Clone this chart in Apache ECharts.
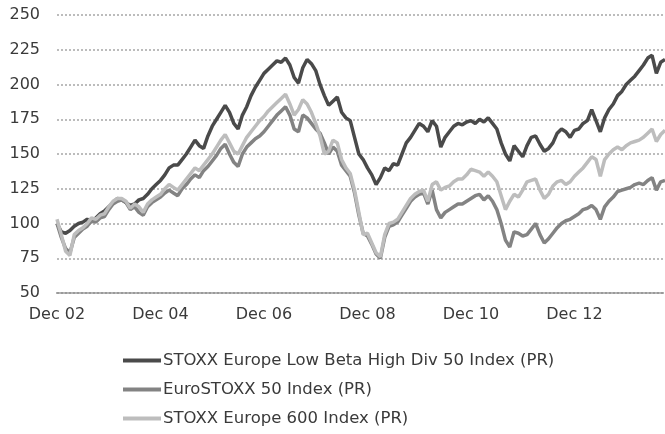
<!DOCTYPE html>
<html>
<head>
<meta charset="utf-8">
<script src="https://cdn.jsdelivr.net/npm/echarts@6/dist/echarts.min.js"></script>
<style>html,body{margin:0;padding:0;background:#fff}#c{width:665px;height:434px}</style>
</head>
<body>
<div id="c"></div>
<script>
// Monthly categories from Dec 2002 to Sep 2014
const startYear = 2002, startMonth = 11, monthCount = 142;
const monthNames = ["Jan","Feb","Mar","Apr","May","Jun","Jul","Aug","Sep","Oct","Nov","Dec"];
const categories = [];
for (let i = 0; i < monthCount; i++) {
  const mm = (startMonth + i) % 12;
  const yy = startYear + Math.floor((startMonth + i) / 12);
  categories.push(monthNames[mm] + " " + String(yy % 100).padStart(2, "0"));
}
const tickLabels = ["Dec 02","Dec 04","Dec 06","Dec 08","Dec 10","Dec 12"];
const seriesNames = ["STOXX Europe Low Beta High Div 50 Index (PR)","EuroSTOXX 50 Index (PR)","STOXX Europe 600 Index (PR)"];

const lowBetaHighDiv = [
100,94,93,95,98,100,101,103,101,104,107,109,
112,115,118,117,115,113,114,117,118,121,125,128,
131,135,140,142,142,146,150,155,160,156,154,163,
170,175,180,185,180,172,168,178,184,192,198,203,
208,211,214,217,216,219,214,205,201,212,218,215,
210,200,192,185,188,191,180,176,174,162,150,146,
140,135,128,133,140,138,143,142,150,158,162,167,
172,170,166,174,170,155,162,166,170,172,171,173,
174,172,175,173,176,172,168,158,150,145,156,152,
148,156,162,163,157,152,154,158,165,168,166,162,
167,168,172,174,182,174,166,176,182,186,192,195,
200,203,206,210,214,219,221,208,216,218
];
const euroStoxx50 = [
100,90,82,79,90,93,96,98,102,101,104,105,
110,114,116,117,115,110,112,108,106,112,115,117,
119,122,124,122,120,125,128,132,135,133,138,141,
145,149,154,157,150,144,141,150,155,158,161,163,
166,170,174,178,181,184,178,168,166,178,176,172,
168,165,158,150,155,152,142,138,134,122,106,93,
91,85,78,75,90,98,99,101,106,111,116,119,
121,122,114,124,110,104,108,110,112,114,114,116,
118,120,121,117,120,116,110,100,88,83,94,93,
91,92,96,100,92,86,89,93,97,100,102,103,
105,107,110,111,113,110,103,112,116,119,123,124,
125,126,128,129,128,131,133,124,130,131
];
const stoxxEurope600 = [
103,92,80,77,92,95,97,100,104,103,106,107,
112,116,118,118,116,111,114,112,108,114,117,119,
121,125,128,126,124,128,132,136,140,138,142,146,
150,155,160,164,158,152,150,156,162,166,170,174,
177,181,184,187,190,193,186,178,182,189,186,180,
172,163,150,152,160,158,146,140,136,124,108,92,
93,86,79,76,92,100,101,103,108,113,118,121,
123,124,116,128,130,124,126,127,130,132,132,135,
139,138,137,134,137,134,130,120,110,116,121,119,
124,130,131,132,124,118,121,127,130,131,128,130,
134,137,140,144,148,146,134,146,150,153,155,153,
156,158,159,160,162,165,168,159,164,167
];
const seriesData = [lowBetaHighDiv, euroStoxx50, stoxxEurope600];
const colors = ["#4a4a4a", "#838383", "#bdbdbd"];

const chart = echarts.init(document.getElementById("c"), null, {renderer: "canvas"});
const FONT = "DejaVu Sans";
chart.setOption({
  animation: false,
  backgroundColor: "#fff",
  grid: {left: 57, right: 0, top: 15, bottom: 141, containLabel: false},
  legend: {
    orient: "vertical",
    left: 118,
    top: 347,
    itemWidth: 38,
    itemHeight: 4,
    itemGap: 12,
    icon: "rect",
    textStyle: {fontFamily: FONT, fontSize: 16.5, color: "#3a3a3a", padding: [0,0,0,-3]},
    data: seriesNames
  },
  xAxis: {
    type: "category",
    data: categories,
    boundaryGap: false,
    axisLine: {show: true, lineStyle: {color: "#9a9a9a", type: "dotted", width: 2}},
    axisTick: {show: false},
    splitLine: {show: false},
    axisLabel: {
      interval: (idx, val) => tickLabels.indexOf(val) >= 0,
      formatter: (val) => val,
      fontFamily: FONT, fontSize: 16, color: "#3a3a3a", margin: 14,
      hideOverlap: false
    }
  },
  yAxis: {
    type: "value",
    min: 50, max: 250, interval: 25,
    axisLine: {show: false},
    axisTick: {show: false},
    axisLabel: {fontFamily: FONT, fontSize: 16, color: "#3a3a3a", margin: 17},
    splitLine: {lineStyle: {color: "#bcbcbc", type: "dotted", width: 2}}
  },
  series: seriesNames.map((name, i) => ({
    name: name,
    type: "line",
    data: seriesData[i],
    symbol: "none",
    lineStyle: {color: colors[i], width: 3.5},
    itemStyle: {color: colors[i]}
  }))
});
</script>
</body>
</html>
